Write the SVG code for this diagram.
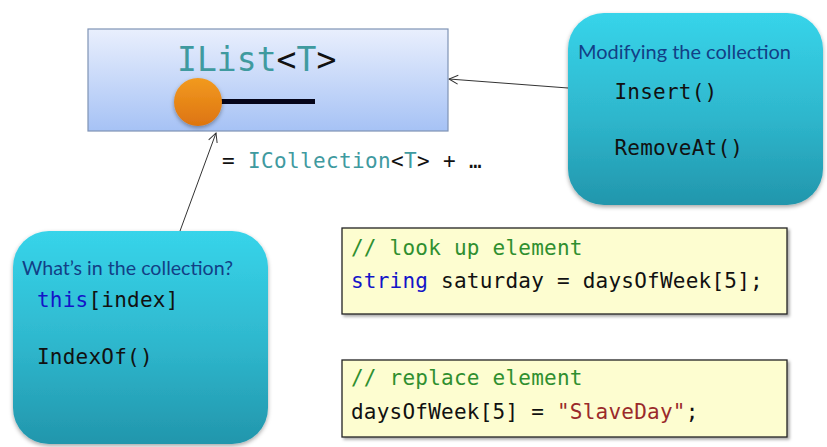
<svg xmlns="http://www.w3.org/2000/svg" width="827" height="447" viewBox="0 0 827 447">
<style>
.m{font-family:"DejaVu Sans Mono","Liberation Mono",monospace;font-size:21px;letter-spacing:.23px;fill:#111}
.h{font-family:Lato,"Noto Sans",sans-serif;font-size:20px;fill:#123f86}
.t{fill:#3f9a9f}
.k{fill:#1414c8}
.s{fill:#9a2a2a}
.b{fill:url(#teal);filter:url(#sh)}
.y{fill:#fdfdd0;stroke:#222;stroke-width:1.3;filter:url(#sh2)}
.c{fill:none;stroke:#333;stroke-width:1;marker-end:url(#ah)}
</style>
<defs>
<linearGradient id="teal" x1="0" y1="0" x2="0" y2="1"><stop offset="0" stop-color="#37d4ea"/><stop offset=".55" stop-color="#2eb6cc"/><stop offset="1" stop-color="#2296ac"/></linearGradient>
<linearGradient id="blue" x1="0" y1="0" x2="0" y2="1"><stop offset="0" stop-color="#e9effd"/><stop offset="1" stop-color="#a6c2f5"/></linearGradient>
<linearGradient id="org" x1="0" y1="0" x2="0" y2="1"><stop offset="0" stop-color="#f29a20"/><stop offset="1" stop-color="#dd7410"/></linearGradient>
<filter id="sh" x="-10%" y="-10%" width="120%" height="120%"><feDropShadow dx="0" dy="2" stdDeviation="2" flood-color="#000" flood-opacity=".35"/></filter>
<filter id="sh2" x="-5%" y="-10%" width="110%" height="125%"><feDropShadow dx="2" dy="2" stdDeviation="1.5" flood-color="#000" flood-opacity=".35"/></filter>
<marker id="ah" markerUnits="userSpaceOnUse" markerWidth="12" markerHeight="12" refX="10" refY="6" orient="auto"><path d="M1 1.5L10 6L1 10.500" fill="none" stroke="#333" stroke-width="1"/></marker>
</defs>
<rect width="827" height="447" fill="#fff"/>
<g id="connectors">
<path class="c" d="M180 231L216 133"/>
<path class="c" d="M568 88L449 79"/>
</g>
<g id="ilist">
<rect x="88" y="29" width="360" height="102" fill="url(#blue)" stroke="#7f93b5" stroke-width="1.2"/>
<text class="m" x="177" y="71" style="font-size:33px;letter-spacing:.05px"><tspan class="t">IList</tspan>&lt;<tspan class="t">T</tspan>&gt;</text>
<rect x="218" y="99" width="97" height="5" fill="#05051a"/>
<circle cx="198" cy="102" r="24" fill="url(#org)" filter="url(#sh)"/>
</g>
<g id="icollection">
<text class="m" x="222" y="168" style="letter-spacing:.36px">= <tspan class="t">ICollection</tspan>&lt;<tspan class="t">T</tspan>&gt; + …</text>
</g>
<g id="whats-in">
<rect class="b" x="13" y="231" width="255" height="213" rx="36"/>
<text class="h" x="22" y="274.500" textLength="211" lengthAdjust="spacingAndGlyphs">What’s in the collection?</text>
<text class="m" x="37" y="307"><tspan class="k">this</tspan>[index]</text>
<text class="m" x="37" y="364">IndexOf()</text>
</g>
<g id="modifying">
<rect class="b" x="568" y="13" width="255" height="192" rx="36"/>
<text class="h" x="578" y="59" textLength="213" lengthAdjust="spacingAndGlyphs">Modifying the collection</text>
<text class="m" x="614.500" y="98.500">Insert()</text>
<text class="m" x="614.500" y="155">RemoveAt()</text>
</g>
<g id="lookup">
<rect class="y" x="342" y="228" width="445" height="86"/>
<text class="m" x="351" y="254.500" style="fill:#2f8f2f">// look up element</text>
<text class="m" x="351" y="288"><tspan class="k">string</tspan> saturday = daysOfWeek[5];</text>
</g>
<g id="replace">
<rect class="y" x="342" y="360" width="445" height="77"/>
<text class="m" x="351" y="385" style="fill:#2f8f2f">// replace element</text>
<text class="m" x="351" y="418.500">daysOfWeek[5] = <tspan class="s">"SlaveDay"</tspan>;</text>
</g>
</svg>
